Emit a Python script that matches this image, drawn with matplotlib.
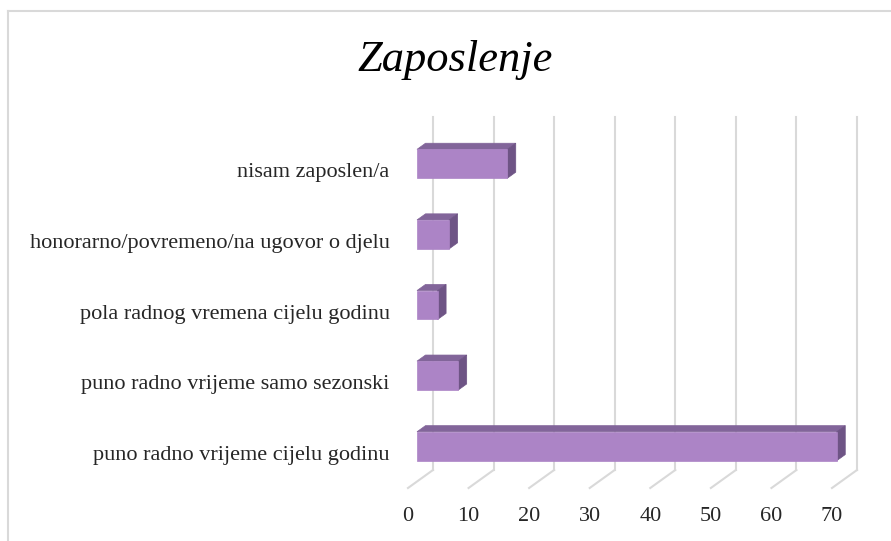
import matplotlib
matplotlib.use("Agg")
import matplotlib.pyplot as plt
from matplotlib import transforms
from matplotlib.patches import Polygon

categories = [
    "puno radno vrijeme cijelu godinu",
    "puno radno vrijeme samo sezonski",
    "pola radnog vremena cijelu godinu",
    "honorarno/povremeno/na ugovor o djelu",
    "nisam zaposlen/a",
]
values = [69.3, 6.8, 3.4, 5.3, 14.9]
x_ticks = [0, 10, 20, 30, 40, 50, 60, 70]

FRONT = "#AC84C6"
TOP = "#82659A"
SIDE = "#6E5485"
GRID = "#D9D9D9"

plt.rcParams["font.family"] = ["Liberation Serif", "DejaVu Serif"]

W, H, DPI = 891, 541, 100
fig = plt.figure(figsize=(W / DPI, H / DPI), dpi=DPI)
fig.patch.set_facecolor("white")

# chart area border (left and top edges visible)
fig.add_artist(plt.Line2D([8 / W, 8 / W], [0, 1 - 11 / H], transform=fig.transFigure,
                          color=GRID, lw=1.5))
fig.add_artist(plt.Line2D([8 / W, 1], [1 - 11 / H, 1 - 11 / H], transform=fig.transFigure,
                          color=GRID, lw=1.5))

# front plane of the 3D box
ax = fig.add_axes([408 / W, 53 / H, 424 / W, 353 / H])
ax.set_xlim(0, 70)
ax.set_ylim(-0.5, len(categories) - 0.5)
for s in ax.spines.values():
    s.set_visible(False)
ax.patch.set_alpha(0)


def shifted(dx, dy):
    # oblique depth offset in pixels
    return ax.transData + transforms.ScaledTranslation(dx / DPI, dy / DPI, fig.dpi_scale_trans)


depth = (25, 18)
back = shifted(*depth)
y0, y1 = ax.get_ylim()

# back wall + floor gridlines
for v in x_ticks:
    ax.plot([v, v], [y0, y1], transform=back, color=GRID, lw=1.5, zorder=1, clip_on=False)
    bx, by = back.transform((v, y0))
    fx, fy = ax.transData.transform((v, y0))
    ax.plot([bx, fx], [by, fy], transform=None, color=GRID, lw=1.5, zorder=1, clip_on=False)

# 3D bars
bar_h = 0.41
f0, f1 = 0.36, 0.70
fr = shifted(depth[0] * f0, depth[1] * f0)
bk = shifted(depth[0] * f1, depth[1] * f1)
for i, v in enumerate(values):
    yb, yt = i - bar_h / 2, i + bar_h / 2
    p = lambda t, x, y: t.transform((x, y))
    front = [p(fr, 0, yb), p(fr, v, yb), p(fr, v, yt), p(fr, 0, yt)]
    top = [p(fr, 0, yt), p(fr, v, yt), p(bk, v, yt), p(bk, 0, yt)]
    side = [p(fr, v, yb), p(bk, v, yb), p(bk, v, yt), p(fr, v, yt)]
    for pts, col in ((top, TOP), (side, SIDE), (front, FRONT)):
        ax.add_patch(Polygon(pts, closed=True, transform=None, facecolor=col,
                             edgecolor=col, lw=0.5, zorder=3, clip_on=False))

ax.set_xticks(x_ticks)
ax.set_xticklabels([str(t) for t in x_ticks], fontsize=16, color="#262626")
ax.set_yticks(range(len(categories)))
ax.set_yticklabels(categories, fontsize=16, color="#262626")
ax.tick_params(axis="x", length=0, pad=14)
ax.tick_params(axis="y", length=0, pad=13.2)

fig.text(455 / W, 1 - 60 / H, "Zaposlenje", ha="center", va="center",
         fontsize=32, style="italic", color="black")

fig.savefig("out.png", dpi=DPI)
